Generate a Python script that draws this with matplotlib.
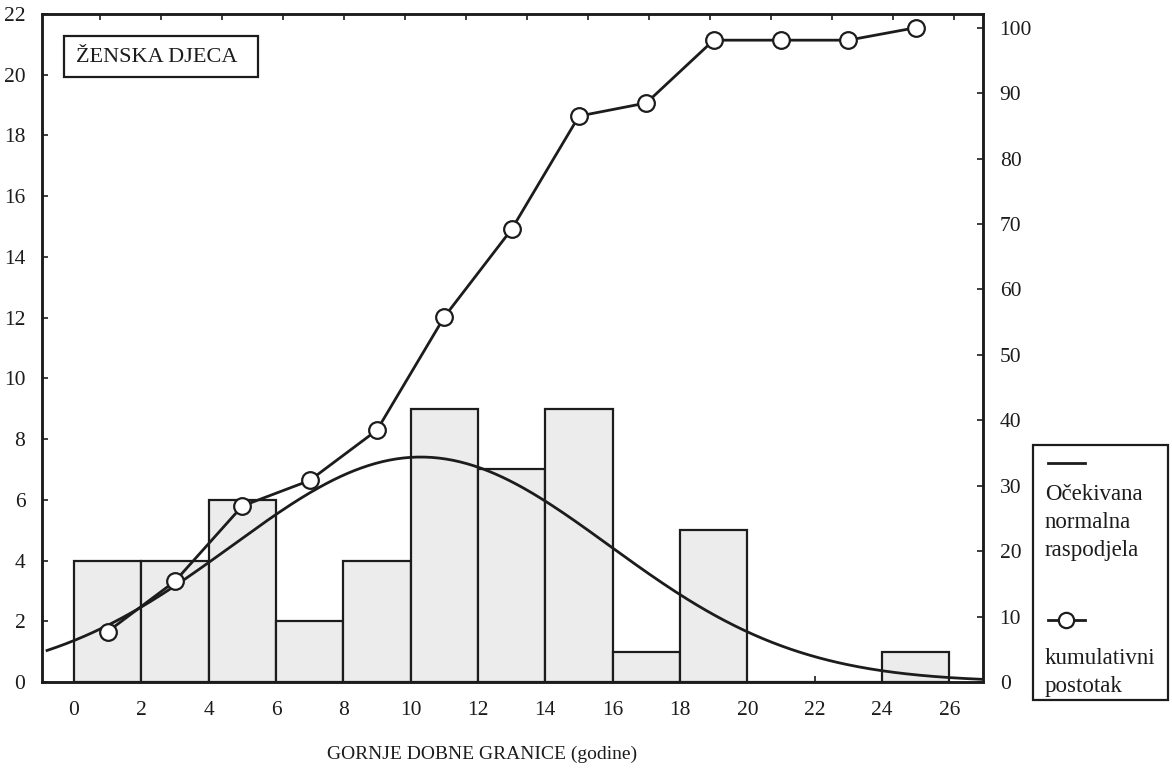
import numpy as np
import matplotlib
matplotlib.use("Agg")
import matplotlib.pyplot as plt
from matplotlib.patches import Rectangle
from matplotlib.lines import Line2D

plt.rcParams['font.family'] = ['Liberation Serif', 'DejaVu Serif']

# ---- data ----
bin_left = [0, 2, 4, 6, 8, 10, 12, 14, 16, 18, 20, 22, 24]
counts = [4, 4, 6, 2, 4, 9, 7, 9, 1, 5, 0, 0, 1]
bin_mid = [1, 3, 5, 7, 9, 11, 13, 15, 17, 19, 21, 23, 25]
cum_pct = [7.7, 15.4, 26.9, 30.8, 38.5, 55.8, 69.2, 86.5, 88.5, 98.1, 98.1, 98.1, 100.0]
norm_mean = 10.3
norm_sd = 5.6
n_total = 52
bin_width = 2
x_ticks = list(range(0, 27, 2))
y_ticks = list(range(0, 23, 2))
y2_ticks = list(range(0, 101, 10))

title_text = "ŽENSKA DJECA"
xlabel_text = "GORNJE DOBNE GRANICE (godine)"
leg1_text = "Očekivana\nnormalna\nraspodjela"
leg2_text = "kumulativni\npostotak"

W, H = 1172, 776
fig = plt.figure(figsize=(W / 100, H / 100), dpi=100)
fig.patch.set_facecolor('white')

def fx(px):
    return px / W

def fy(py):
    return 1 - py / H

L, R, T, B = 42, 983, 14, 682
ax = fig.add_axes([fx(L), fy(B), (R - L) / W, (B - T) / H])
ink = '#1c1c1c'

ax.bar(bin_left, counts, width=bin_width, align='edge', color='#ececec',
       edgecolor=ink, linewidth=1.6, zorder=2)

xs = np.linspace(-0.8, 27, 400)
ys = n_total * bin_width / (norm_sd * np.sqrt(2 * np.pi)) * np.exp(-0.5 * ((xs - norm_mean) / norm_sd) ** 2)
ax.plot(xs, ys, color=ink, linewidth=2.0, zorder=3)

ax.set_xlim(-0.95, 27.0)
ax.set_ylim(0, 22)
ax.set_xticks(x_ticks)
ax.set_yticks(y_ticks)

for s in ax.spines.values():
    s.set_linewidth(1.8)
    s.set_color(ink)

ax.tick_params(axis='x', direction='in', length=4, width=1.2, pad=14,
               labelsize=15.5, colors=ink)
ax.tick_params(axis='y', direction='in', length=4, width=1.2, pad=12,
               labelsize=15.5, colors=ink)

# top ticks (independent spacing in the original)
top_ticks = 0.77 + 1.812 * np.arange(15)
sec = ax.secondary_xaxis('top')
sec.set_xticks(top_ticks)
sec.tick_params(direction='in', length=4, width=1.2, labeltop=False, colors=ink)
sec.spines['top'].set_visible(False)

ax2 = ax.twinx()
ax2.plot(bin_mid, cum_pct, color=ink, linewidth=2.0, marker='o', markersize=12,
         markerfacecolor='white', markeredgecolor=ink, markeredgewidth=1.6,
         zorder=4, clip_on=False)
ax2.set_ylim(0, 102.1)
ax2.set_yticks(y2_ticks)
ax2.tick_params(axis='y', direction='in', length=4, width=1.2, pad=12,
                labelsize=15.5, colors=ink)
for s in ax2.spines.values():
    s.set_linewidth(1.8)
    s.set_color(ink)

# title box
fig.patches.append(Rectangle((fx(64), fy(77)), (258 - 64) / W, (77 - 36) / H,
                             transform=fig.transFigure, fill=False,
                             edgecolor=ink, linewidth=1.6))
fig.text(fx(76), fy(57), title_text, fontsize=16, color=ink, va='center', ha='left')

# x label
fig.text(fx(482), fy(754), xlabel_text, fontsize=14, color=ink, va='center', ha='center')

# legend box
fig.patches.append(Rectangle((fx(1033), fy(700)), (1168 - 1033) / W, (700 - 445) / H,
                             transform=fig.transFigure, facecolor='white',
                             edgecolor=ink, linewidth=1.6))
fig.lines.append(Line2D([fx(1048), fx(1085)], [fy(463), fy(463)],
                        transform=fig.transFigure, color=ink, linewidth=2.0))
fig.text(fx(1045), fy(484), leg1_text, fontsize=16.5, color=ink, va='top', ha='left',
         linespacing=1.45)
fig.lines.append(Line2D([fx(1048), fx(1085)], [fy(620), fy(620)],
                        transform=fig.transFigure, color=ink, linewidth=2.0))
fig.lines.append(Line2D([fx(1066)], [fy(620)], transform=fig.transFigure,
                        marker='o', markersize=11, markerfacecolor='white',
                        markeredgecolor=ink, markeredgewidth=1.6, linestyle='none'))
fig.text(fx(1045), fy(648), leg2_text, fontsize=16.5, color=ink, va='top', ha='left',
         linespacing=1.45)

fig.savefig('out.png', dpi=100)
